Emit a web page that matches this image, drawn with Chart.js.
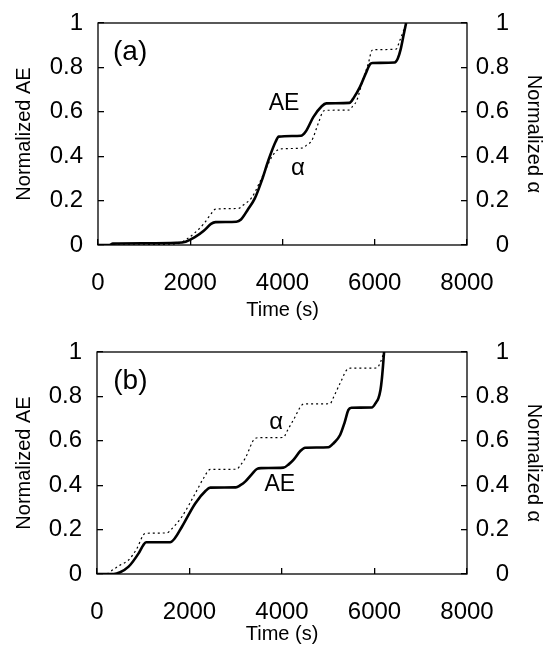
<!DOCTYPE html>
<html>
<head>
<meta charset="utf-8">
<script src="https://cdn.jsdelivr.net/npm/chart.js@4/dist/chart.umd.min.js"></script>
<style>
  html, body { margin: 0; padding: 0; background: #fff; }
  #wrap { position: relative; width: 545px; height: 648px; }
  canvas { position: absolute; left: 0; }
  #chartA { top: 0; }
  #chartB { top: 324px; }
</style>
</head>
<body>
<div id="wrap">
  <canvas id="chartA" width="545" height="324"></canvas>
  <canvas id="chartB" width="545" height="324"></canvas>
</div>
<script>
// DATA
const xTicks = [0, 2000, 4000, 6000, 8000];
const yTicks = [0, 0.2, 0.4, 0.6, 0.8, 1];

// panel (a)
const aeTimeA = [0, 250, 320, 1000, 1700, 1900, 2100, 2300, 2450, 2550, 3000, 3100, 3250, 3400, 3550, 3700, 3850, 3920, 4400, 4500, 4668, 4850, 4950, 5450, 5550, 5680, 5800, 5900, 5950, 6430, 6500, 6560, 6620, 6680];
const aeValA  = [0, 0, 0.006, 0.008, 0.01, 0.015, 0.035, 0.065, 0.095, 0.103, 0.105, 0.115, 0.16, 0.21, 0.29, 0.385, 0.465, 0.488, 0.492, 0.51, 0.576, 0.625, 0.638, 0.64, 0.665, 0.712, 0.77, 0.815, 0.82, 0.822, 0.84, 0.88, 0.94, 1.0];
const alTimeA = [0, 1700, 1922, 2100, 2283, 2450, 2550, 3050, 3150, 3332, 3500, 3620, 3750, 3850, 3950, 4450, 4520, 4633, 4780, 4885, 4960, 5450, 5520, 5608, 5750, 5860, 5933, 5980, 6460, 6547, 6650, 6690];
const alValA  = [0, 0.005, 0.026, 0.055, 0.093, 0.14, 0.162, 0.165, 0.18, 0.213, 0.28, 0.333, 0.39, 0.42, 0.433, 0.437, 0.45, 0.47, 0.55, 0.603, 0.607, 0.608, 0.625, 0.65, 0.75, 0.817, 0.875, 0.88, 0.882, 0.923, 0.98, 1.0];

// panel (b)
const aeTimeB = [0, 360, 500, 683, 899, 1000, 1060, 1580, 1680, 1836, 2124, 2350, 2450, 3000, 3100, 3204, 3350, 3457, 3550, 4031, 4150, 4247, 4400, 4500, 5003, 5120, 5256, 5350, 5436, 5500, 5941, 6040, 6084, 6130, 6157, 6185, 6207];
const aeValB  = [0, 0, 0.008, 0.033, 0.093, 0.13, 0.143, 0.143, 0.16, 0.213, 0.318, 0.375, 0.389, 0.39, 0.4, 0.416, 0.45, 0.473, 0.477, 0.479, 0.495, 0.514, 0.555, 0.569, 0.571, 0.59, 0.626, 0.68, 0.739, 0.749, 0.75, 0.775, 0.791, 0.83, 0.874, 0.94, 1.0];
const alTimeB = [0, 250, 287, 500, 683, 850, 1044, 1512, 1600, 1836, 2124, 2300, 2448, 3024, 3100, 3204, 3420, 3500, 4031, 4100, 4247, 4428, 4480, 5040, 5100, 5256, 5436, 5480, 6049, 6120, 6207];
const alValB  = [0, 0.003, 0.01, 0.04, 0.063, 0.11, 0.183, 0.185, 0.2, 0.258, 0.363, 0.43, 0.471, 0.472, 0.49, 0.521, 0.611, 0.614, 0.615, 0.64, 0.694, 0.761, 0.766, 0.767, 0.79, 0.859, 0.926, 0.927, 0.928, 0.95, 1.0];

// text notes, in data units
const notesA = [
  { text: '(a)', t: 325, v: 0.869, size: 28, align: 'left' },
  { text: 'AE', t: 4033, v: 0.638, size: 23, align: 'center' },
  { text: '\u03b1', t: 4336, v: 0.344, size: 24, align: 'center' }
];
const notesB = [
  { text: '(b)', t: 352, v: 0.869, size: 28, align: 'left' },
  { text: '\u03b1', t: 3874, v: 0.685, size: 24, align: 'center' },
  { text: 'AE', t: 3953, v: 0.402, size: 23, align: 'center' }
];

const FONT = "'Liberation Sans', Arial, sans-serif";
const pts = (xs, ys) => xs.map((x, i) => ({ x: x, y: ys[i] }));

// box + notes
const frame = {
  id: 'frame',
  afterDatasetsDraw(chart, args, opts) {
    const { ctx, chartArea: a, scales } = chart;
    ctx.save();
    ctx.strokeStyle = '#000';
    ctx.lineWidth = 1.3;
    ctx.strokeRect(a.left, a.top, a.right - a.left, a.bottom - a.top);
    ctx.fillStyle = '#000';
    ctx.textBaseline = 'middle';
    (opts.notes || []).forEach(n => {
      ctx.font = n.size + 'px ' + FONT;
      ctx.textAlign = n.align;
      ctx.fillText(n.text, scales.x.getPixelForValue(n.t), scales.y.getPixelForValue(n.v));
    });
    ctx.restore();
  }
};

function makePanel(el, ae, al, notes, leftW, padTop, xH) {
  const tickFont = { family: FONT, size: 24 };
  const titleFont = { family: FONT, size: 20 };
  const grid = { drawOnChartArea: false, drawTicks: true, tickLength: -6, color: '#000', lineWidth: 1.3 };
  const setTicks = list => scale => { scale.ticks = list.map(v => ({ value: v })); };
  const fitY = w => s => { s.width = w; s.paddingTop = 0; s.paddingBottom = 0; };
  return new Chart(el, {
    type: 'line',
    data: {
      datasets: [
        {
          label: 'AE',
          data: ae,
          borderColor: '#000',
          borderWidth: 2.6,
          pointRadius: 0,
          cubicInterpolationMode: 'monotone',
          yAxisID: 'y'
        },
        {
          label: '\u03b1',
          data: al,
          borderColor: '#000',
          borderWidth: 1.2,
          borderDash: [2, 3],
          pointRadius: 0,
          cubicInterpolationMode: 'monotone',
          yAxisID: 'y2'
        }
      ]
    },
    options: {
      responsive: false,
      animation: false,
      events: [],
      layout: { padding: { top: padTop, left: 0, right: 36, bottom: 0 } },
      plugins: { legend: { display: false }, tooltip: { enabled: false }, frame: { notes: notes } },
      scales: {
        x: {
          type: 'linear', position: 'bottom', min: 0, max: 8000,
          afterBuildTicks: setTicks(xTicks),
          afterFit: s => { s.height = xH; },
          grid: grid, border: { display: false },
          ticks: { font: tickFont, color: '#000', padding: 30, maxRotation: 0, callback: v => String(v) },
          title: { display: true, text: 'Time (s)', font: titleFont, color: '#000', padding: { top: 0, bottom: 2 } }
        },
        y: {
          type: 'linear', position: 'left', min: 0, max: 1,
          afterBuildTicks: setTicks(yTicks),
          afterFit: fitY(leftW),
          grid: grid, border: { display: false },
          ticks: { font: tickFont, color: '#000', padding: 21, callback: v => String(v) },
          title: { display: true, text: 'Normalized AE', font: titleFont, color: '#000', padding: { top: 12, bottom: 0 } }
        },
        y2: {
          type: 'linear', position: 'right', min: 0, max: 1,
          afterBuildTicks: setTicks(yTicks),
          afterFit: fitY(42),
          grid: grid, border: { display: false },
          ticks: { font: tickFont, color: '#000', padding: 15, crossAlign: 'far', callback: v => String(v) },
          title: { display: true, text: 'Normalized \u03b1', font: titleFont, color: '#000', padding: { top: -37, bottom: 0 } }
        }
      }
    },
    plugins: [frame]
  });
}

makePanel(document.getElementById('chartA'), pts(aeTimeA, aeValA), pts(alTimeA, alValA), notesA, 98, 23, 79);
makePanel(document.getElementById('chartB'), pts(aeTimeB, aeValB), pts(alTimeB, alValB), notesB, 97, 28, 74);
</script>
</body>
</html>
